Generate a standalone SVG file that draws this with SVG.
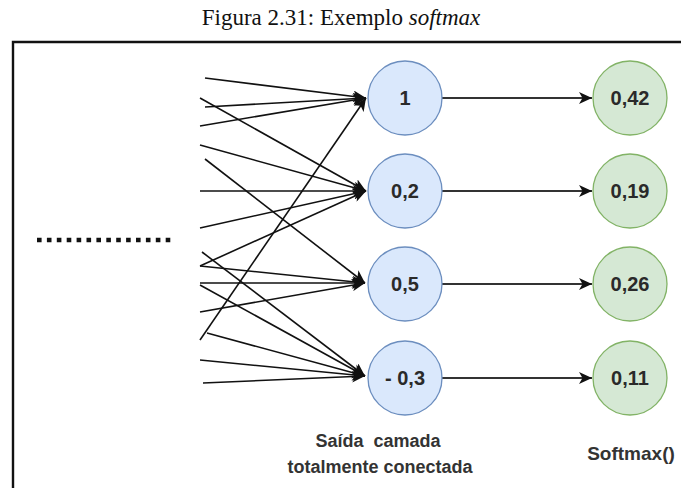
<svg xmlns="http://www.w3.org/2000/svg" width="681" height="488" viewBox="0 0 681 488">
<style>
.title{font-family:"Liberation Serif","DejaVu Serif",serif;font-size:23px;fill:#111}
.blue{fill:#dae8fc;stroke:#6c8ebf;stroke-width:1.3}
.green{fill:#d5e8d4;stroke:#82b366;stroke-width:1.3}
.nt{font-family:"Liberation Sans",Arial,sans-serif;font-size:20px;font-weight:bold;fill:#2a2a2a;text-anchor:middle}
.lbl{font-family:"Liberation Sans",Arial,sans-serif;font-size:18px;font-weight:bold;fill:#333;text-anchor:middle}
.in{stroke:#111;stroke-width:1.6;fill:none;marker-end:url(#ah)}
.out{stroke:#333;stroke-width:2;fill:none;marker-end:url(#ah)}
</style>
<defs>
<marker id="ah" markerUnits="userSpaceOnUse" markerWidth="14" markerHeight="12" refX="13" refY="6" orient="auto">
<path d="M0,0 L13,6 L0,12 L3.5,6 Z" fill="#111"/>
</marker>
</defs>
<rect width="681" height="488" fill="#fff"/>
<text class="title" x="341" y="25" text-anchor="middle">Figura 2.31: Exemplo <tspan font-style="italic">softmax</tspan></text>
<path d="M13,488 V42 H681" fill="none" stroke="#111" stroke-width="2.4"/>
<line x1="37" y1="240" x2="175" y2="240" stroke="#111" stroke-width="4.5" stroke-dasharray="4.6 5.3"/>
<g id="connectors">
<line class="in" x1="205" y1="78" x2="366" y2="98"/>
<line class="in" x1="205" y1="107" x2="366" y2="98"/>
<line class="in" x1="200" y1="126" x2="366" y2="98"/>
<line class="in" x1="200" y1="340" x2="366" y2="98"/>
<line class="in" x1="200" y1="98" x2="366" y2="191"/>
<line class="in" x1="200" y1="145" x2="366" y2="191"/>
<line class="in" x1="200" y1="191" x2="366" y2="191"/>
<line class="in" x1="200" y1="228" x2="366" y2="191"/>
<line class="in" x1="200" y1="266" x2="366" y2="191"/>
<line class="in" x1="205" y1="159" x2="365" y2="283"/>
<line class="in" x1="200" y1="266" x2="365" y2="283"/>
<line class="in" x1="200" y1="283" x2="365" y2="283"/>
<line class="in" x1="200" y1="312" x2="365" y2="283"/>
<line class="in" x1="202" y1="252" x2="365" y2="376"/>
<line class="in" x1="200" y1="285" x2="365" y2="376"/>
<line class="in" x1="207" y1="333" x2="365" y2="376"/>
<line class="in" x1="200" y1="360" x2="365" y2="376"/>
<line class="in" x1="203" y1="383" x2="365" y2="376"/>
<line class="out" x1="442" y1="98" x2="592" y2="98"/>
<line class="out" x1="442" y1="191" x2="592" y2="191"/>
<line class="out" x1="442" y1="284" x2="592" y2="284"/>
<line class="out" x1="442" y1="378" x2="592" y2="378"/>
</g>
<g id="n1"><circle class="blue" cx="405" cy="98" r="37"/><text class="nt" x="405" y="105">1</text></g>
<g id="n2"><circle class="blue" cx="405" cy="191" r="37"/><text class="nt" x="405" y="198">0,2</text></g>
<g id="n3"><circle class="blue" cx="405" cy="284" r="37"/><text class="nt" x="405" y="291">0,5</text></g>
<g id="n4"><circle class="blue" cx="405" cy="378" r="37"/><text class="nt" x="405" y="385">- 0,3</text></g>
<g id="s1"><circle class="green" cx="630" cy="98" r="37"/><text class="nt" x="630" y="105">0,42</text></g>
<g id="s2"><circle class="green" cx="630" cy="191" r="37"/><text class="nt" x="630" y="198">0,19</text></g>
<g id="s3"><circle class="green" cx="630" cy="284" r="37"/><text class="nt" x="630" y="291">0,26</text></g>
<g id="s4"><circle class="green" cx="630" cy="378" r="37"/><text class="nt" x="630" y="385">0,11</text></g>
<g id="label-fc"><text class="lbl" x="378" y="447" xml:space="preserve">Saída  camada</text><text class="lbl" x="380" y="473">totalmente conectada</text></g>
<g id="label-sm"><text class="lbl" x="631" y="460" style="font-size:19px">Softmax()</text></g>
</svg>
